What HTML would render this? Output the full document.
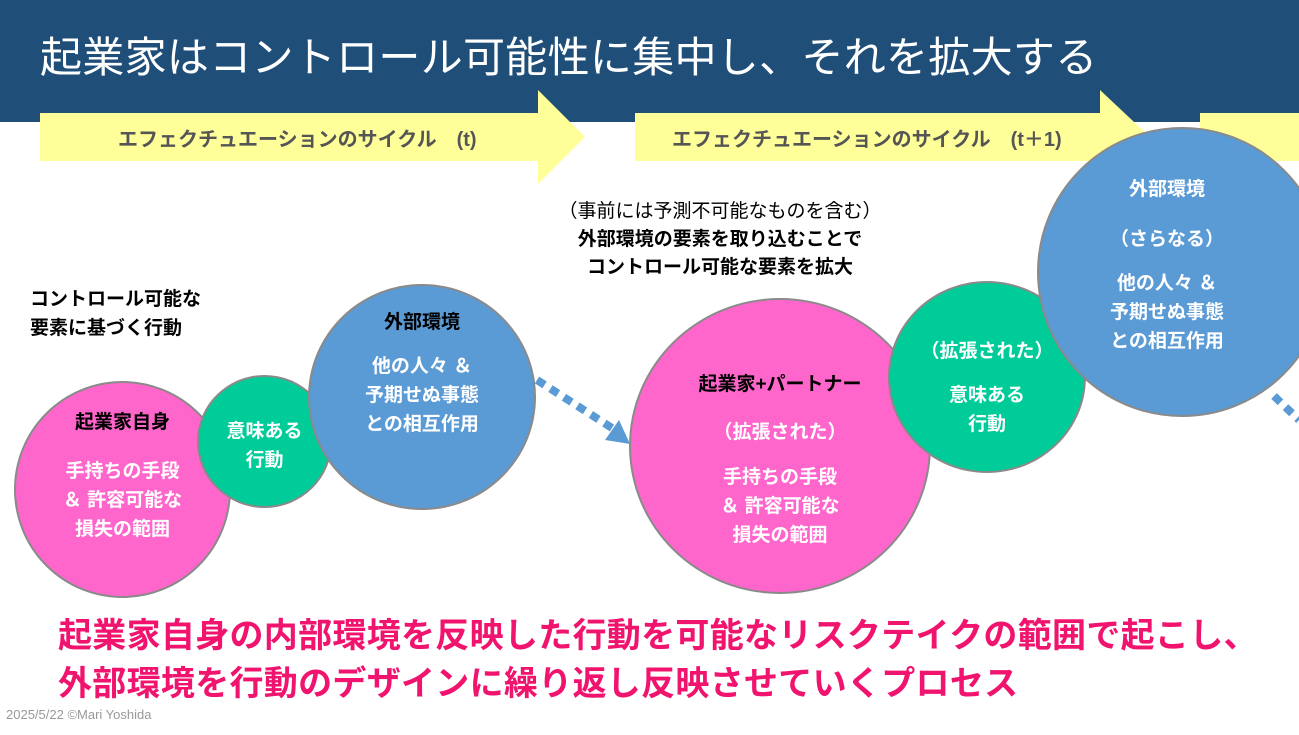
<!DOCTYPE html>
<html><head><meta charset="utf-8"><style>
body{margin:0;width:1299px;height:735px;overflow:hidden;background:#fff;position:relative;font-family:"Liberation Sans","Noto Sans CJK JP",sans-serif}
.a{position:absolute}
.c{position:absolute;border-radius:50%;border:2px solid #8a8a8a;box-sizing:border-box;text-align:center;font-weight:bold;font-size:19px;line-height:29px}
.pk{background:#ff66cc}.gr{background:#00cc99}.bl{background:#5b9bd5}
.t{position:absolute;left:0;right:0;text-align:center}
.w{color:#fff}
</style></head><body>
<div class="a" style="left:0;top:0;width:1299px;height:122px;background:#1f4e79"></div>
<div class="a w" style="left:40px;top:29px;font-size:42px;line-height:58px;letter-spacing:0.3px">起業家はコントロール可能性に集中し、それを拡大する</div>
<svg class="a" style="left:0;top:0" width="1299" height="735">
<polygon points="40,113 538,113 538,90 585,137 538,184 538,161 40,161" fill="#ffff99"/>
<polygon points="635,113 1100,113 1100,90 1150,137 1100,184 1100,161 635,161" fill="#ffff99"/>
<rect x="1200" y="113" width="99" height="48" fill="#ffff99"/>
<line x1="537" y1="380" x2="612" y2="428" stroke="#5b9bd5" stroke-width="8" stroke-dasharray="9,7"/>
<polygon points="605,440 619,420 630,444" fill="#5b9bd5"/>
<line x1="1274" y1="396" x2="1299" y2="420" stroke="#5b9bd5" stroke-width="8" stroke-dasharray="9,7"/>
</svg>
<div class="a" style="left:118px;top:123px;font-size:20px;font-weight:bold;color:#555">エフェクチュエーションのサイクル　(t)</div>
<div class="a" style="left:672px;top:123px;font-size:20px;font-weight:bold;color:#555">エフェクチュエーションのサイクル　(t＋1)</div>
<div class="a" style="left:520px;top:198px;width:400px;text-align:center;font-size:19px;line-height:28px"><span>（事前には予測不可能なものを含む）</span><br><b>外部環境の要素を取り込むことで<br>コントロール可能な要素を拡大</b></div>
<div class="a" style="left:30px;top:285px;font-size:19px;line-height:29px;font-weight:bold">コントロール可能な<br>要素に基づく行動</div>
<div class="c pk" style="left:14px;top:381px;width:217px;height:217px"><div class="t" style="top:25px">起業家自身</div><div class="t w" style="top:74px">手持ちの手段<br>＆ 許容可能な<br>損失の範囲</div></div>
<div class="c gr" style="left:197px;top:375px;width:135px;height:133px"><div class="t w" style="top:40px">意味ある<br>行動</div></div>
<div class="c bl" style="left:308px;top:284px;width:228px;height:226px"><div class="t" style="top:22px">外部環境</div><div class="t w" style="top:66px">他の人々 ＆<br>予期せぬ事態<br>との相互作用</div></div>
<div class="c pk" style="left:629px;top:298px;width:302px;height:296px"><div class="t" style="top:70px">起業家+パートナー</div><div class="t w" style="top:118px">（拡張された）</div><div class="t w" style="top:163px">手持ちの手段<br>＆ 許容可能な<br>損失の範囲</div></div>
<div class="c gr" style="left:888px;top:281px;width:198px;height:192px"><div class="t w" style="top:54px">（拡張された）</div><div class="t w" style="top:98px">意味ある<br>行動</div></div>
<div class="c bl" style="left:1037px;top:127px;width:290px;height:290px"><div class="t w" style="top:46px;left:-30px">外部環境</div><div class="t w" style="top:96px;left:-30px">（さらなる）</div><div class="t w" style="top:140px;left:-30px">他の人々 ＆<br>予期せぬ事態<br>との相互作用</div></div>
<div class="a" style="left:58px;top:612px;font-size:34px;line-height:48px;font-weight:bold;color:#f0146e;letter-spacing:0.3px">起業家自身の内部環境を反映した行動を可能なリスクテイクの範囲で起こし、<br>外部環境を行動のデザインに繰り返し反映させていくプロセス</div>
<div class="a" style="left:6px;top:707px;font-size:13px;color:#999">2025/5/22 ©Mari Yoshida</div>
</body></html>
